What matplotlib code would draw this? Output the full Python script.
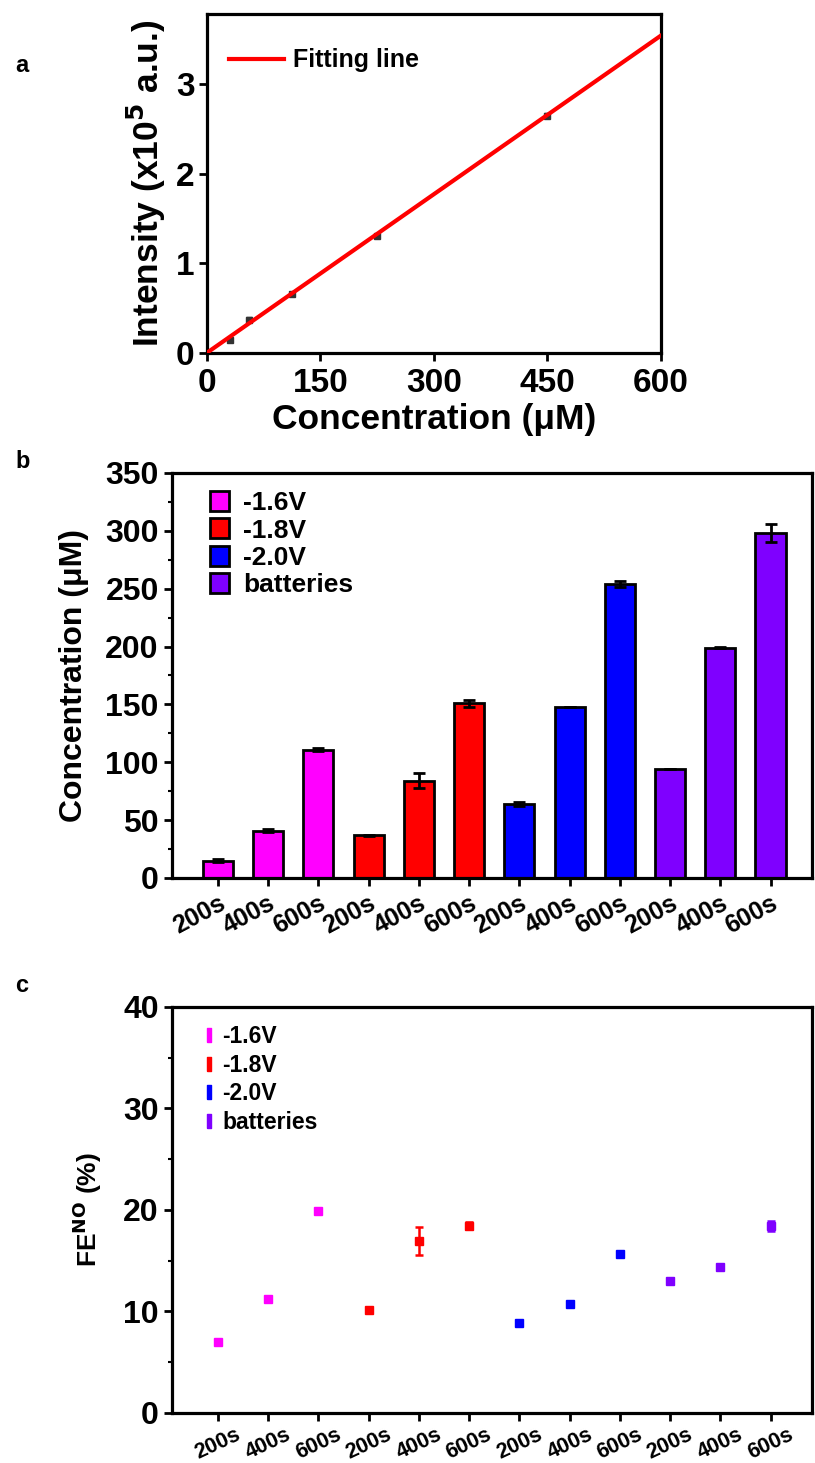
import numpy as np
import matplotlib
matplotlib.use("Agg")
import matplotlib.pyplot as plt
from matplotlib.lines import Line2D
from matplotlib.patches import Patch
import matplotlib.transforms as mtransforms

plt.rcParams['font.family'] = ['Liberation Sans', 'DejaVu Sans']
plt.rcParams['font.weight'] = 'bold'
plt.rcParams['mathtext.default'] = 'bf'

# ---------------- data ----------------
# panel a
cal_conc = [30, 56, 112, 225, 450]
cal_int = [0.14, 0.37, 0.656, 1.30, 2.645]
cal_err = [0.02, 0.03, 0.02, 0.02, 0.03]
fit_x = [0, 600]
fit_y = [0.0, 3.54]

# panel b / c
time_labels = ['200s', '400s', '600s'] * 4
groups = ['-1.6V', '-1.8V', '-2.0V', 'batteries']
group_colors = ['#FF00FF', '#FF0000', '#0000FF', '#7F00FF']
conc_vals = [15, 41, 111, 37, 84, 151, 64, 148, 254, 94, 199, 298]
conc_err = [1, 1.5, 1.5, 0.5, 6.5, 3, 1.5, 0, 2.5, 0, 0.5, 8]
fe_vals = [7.0, 11.2, 19.9, 10.1, 16.95, 18.45, 8.9, 10.7, 15.7, 13.0, 14.4, 18.4]
fe_err = [0.2, 0.3, 0.3, 0.2, 1.35, 0.35, 0.2, 0.2, 0.2, 0.25, 0.2, 0.5]

fig = plt.figure(figsize=(8.15, 14.63), dpi=100)

spine_w = 2.3

def style_axes(ax):
    for s in ['top', 'right', 'left', 'bottom']:
        ax.spines[s].set_linewidth(spine_w)
    ax.tick_params(which='major', direction='out', length=6, width=2, top=False, right=False)
    ax.tick_params(which='minor', direction='out', length=3, width=1.5, top=False, right=False)
    for lab in ax.get_xticklabels() + ax.get_yticklabels():
        lab.set_fontweight('bold')

# ---------------- panel a ----------------
axa = fig.add_axes([0.254, 0.7589, 0.557, 0.2315])
axa.plot(fit_x, fit_y, color='#FF0000', lw=3, label='Fitting line', zorder=3)
axa.errorbar(cal_conc, cal_int, yerr=cal_err, fmt='s', color='#333333', ms=5,
             capsize=2, elinewidth=1.2, zorder=2)
axa.set_xlim(0, 600)
axa.set_ylim(0, 3.78)
axa.set_xticks([0, 150, 300, 450, 600])
axa.set_yticks([0, 1, 2, 3])
axa.tick_params(axis='both', labelsize=24)
axa.tick_params(axis='x', pad=5)
axa.tick_params(axis='y', pad=3)
style_axes(axa)
axa.set_xlabel('Concentration (μM)', fontsize=25.5, fontweight='bold', labelpad=3)
axa.set_ylabel('Intensity (x10$^{5}$ a.u.)', fontsize=25.5, fontweight='bold', labelpad=6)
axa.legend(loc='upper left', frameon=False, handlelength=2.2, handletextpad=0.35,
           borderaxespad=0.2, prop={'weight': 'bold', 'size': 18},
           bbox_to_anchor=(0.015, 0.943))

# ---------------- panel b ----------------
axb = fig.add_axes([0.211, 0.3999, 0.785, 0.2768])
pos = np.arange(1, len(conc_vals) + 1)
bar_colors = [group_colors[i // 3] for i in range(len(conc_vals))]
axb.bar(pos, conc_vals, width=0.6, color=bar_colors, edgecolor='black', linewidth=2,
        zorder=2)
axb.errorbar(pos, conc_vals, yerr=conc_err, fmt='none', ecolor='black', elinewidth=2,
             capsize=4, capthick=2, zorder=3)
axb.set_xlim(0.085, 12.82)
axb.set_ylim(0, 350)
axb.set_yticks(np.arange(0, 351, 50))
axb.set_yticks(np.arange(25, 350, 50), minor=True)
axb.set_xticks(pos)
axb.set_xticklabels(time_labels, rotation=28, ha='right', rotation_mode='anchor',
                    fontsize=18, fontweight='bold')
off = mtransforms.ScaledTranslation(14 / 100, 0, fig.dpi_scale_trans)
for lab in axb.get_xticklabels():
    lab.set_transform(lab.get_transform() + off)
axb.tick_params(axis='y', labelsize=23)
style_axes(axb)
axb.set_ylabel('Concentration (μM)', fontsize=23, fontweight='bold', labelpad=12)
handles_b = [Patch(facecolor=c, edgecolor='black', linewidth=2, label=g)
             for c, g in zip(group_colors, groups)]
axb.legend(handles=handles_b, loc='upper left', frameon=False,
           prop={'weight': 'bold', 'size': 19}, handlelength=0.7, handleheight=0.8,
           labelspacing=0.12, handletextpad=0.55, bbox_to_anchor=(0.035, 0.995),
           borderaxespad=0.2)

# ---------------- panel c ----------------
axc = fig.add_axes([0.211, 0.0342, 0.785, 0.2775])
for gi, (g, c) in enumerate(zip(groups, group_colors)):
    sl = slice(gi * 3, gi * 3 + 3)
    axc.errorbar(pos[sl], fe_vals[sl], yerr=fe_err[sl], fmt='s', color=c, ms=5.2,
                 mec=c, capsize=3, elinewidth=1.8, capthick=1.8, zorder=3)
axc.set_xlim(0.085, 12.82)
axc.set_ylim(0, 40)
axc.set_yticks([0, 10, 20, 30, 40])
axc.set_yticks([5, 15, 25, 35], minor=True)
axc.set_xticks(pos)
axc.set_xticklabels(time_labels, rotation=25, ha='center', fontsize=15.5,
                    fontweight='bold')
off_c = mtransforms.ScaledTranslation(5 / 100, 0, fig.dpi_scale_trans)
for lab in axc.get_xticklabels():
    lab.set_transform(lab.get_transform() + off_c)
axc.tick_params(axis='x', pad=2)
axc.tick_params(axis='y', labelsize=23)
style_axes(axc)
axc.set_ylabel('FE$^{\\mathbf{NO}}$ (%)', fontsize=19, fontweight='bold')
axc.yaxis.set_label_coords(-0.106, 0.5)
rect = [(-0.3, -1), (0.3, -1), (0.3, 1), (-0.3, 1), (-0.3, -1)]
handles_c = [Line2D([], [], ls='none', marker=rect, ms=10, color=c, mec=c, label=g)
             for c, g in zip(group_colors, groups)]
axc.legend(handles=handles_c, loc='upper left', frameon=False,
           prop={'weight': 'bold', 'size': 16.5}, handlelength=0.6,
           labelspacing=0.25, handletextpad=0.3, bbox_to_anchor=(0.025, 0.99),
           borderaxespad=0.2)

# panel letters
fig.text(15 / 815, 1 - 65 / 1463, 'a', fontsize=17, fontweight='bold', va='center')
fig.text(15 / 815, 1 - 462 / 1463, 'b', fontsize=17, fontweight='bold', va='center')
fig.text(15 / 815, 1 - 985 / 1463, 'c', fontsize=17, fontweight='bold', va='center')

fig.savefig('out.png', dpi=100)
